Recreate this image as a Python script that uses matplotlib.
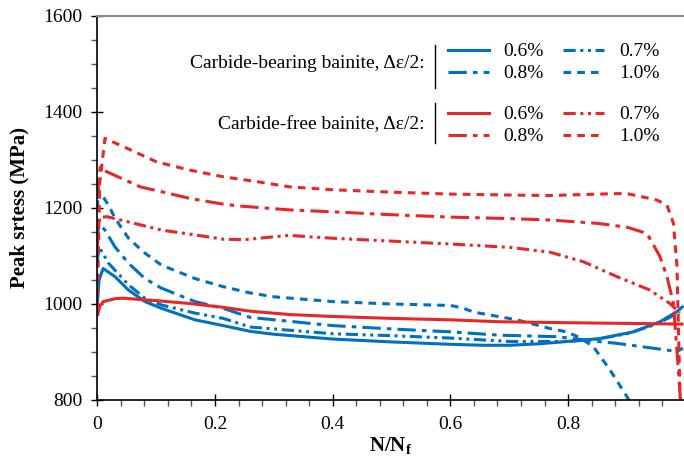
"""Peak stress vs normalised life for carbide-bearing / carbide-free bainite."""
import matplotlib
matplotlib.use("Agg")
import matplotlib.pyplot as plt
from matplotlib.lines import Line2D

# carbide-bearing bainite (blue)
cb06_x = [0, 0.003, 0.01, 0.03, 0.053, 0.081, 0.109, 0.166, 0.214, 0.26, 0.3, 0.4,
          0.5, 0.6, 0.656, 0.7, 0.75, 0.8, 0.854, 0.911, 0.956, 0.985, 0.996]
cb06_y = [1000, 1050, 1074, 1057, 1029, 1005, 991, 967, 955, 943, 937, 927,
          921, 916, 914, 914, 917, 922, 928, 942, 963, 984, 996]
cb07_x = [0, 0.003, 0.019, 0.053, 0.081, 0.109, 0.166, 0.214, 0.26, 0.4, 0.5, 0.6,
          0.7, 0.8, 0.85, 0.9, 0.95, 0.985]
cb07_y = [1090, 1119, 1085, 1040, 1012, 998, 981, 970, 952, 938, 934, 929,
          922, 922, 927, 938, 958, 980]
cb08_x = [0, 0.002, 0.013, 0.03, 0.053, 0.081, 0.109, 0.166, 0.214, 0.26, 0.4, 0.5,
          0.6, 0.684, 0.78, 0.85, 0.883, 0.968, 0.985, 0.995]
cb08_y = [1130, 1168, 1154, 1119, 1085, 1053, 1033, 1005, 991, 972, 955, 948,
          942, 935, 932, 922, 918, 904, 901, 908]
cb10_x = [0, 0.002, 0.019, 0.03, 0.053, 0.081, 0.109, 0.166, 0.214, 0.26, 0.3, 0.4,
          0.5, 0.6, 0.62, 0.64, 0.713, 0.769, 0.797, 0.82, 0.843, 0.871, 0.9, 0.92]
cb10_y = [1200, 1238, 1206, 1179, 1137, 1106, 1081, 1053, 1036, 1023, 1015, 1005,
          1000, 997, 992, 983, 967, 949, 942, 930, 911, 863, 807, 765]

# carbide-free bainite (red)
cf06_x = [0, 0.004, 0.01, 0.03, 0.044, 0.1, 0.157, 0.214, 0.26, 0.327, 0.4, 0.5,
          0.6, 0.684, 0.8, 0.939, 0.996]
cf06_y = [975, 995, 1005, 1011, 1012, 1007, 1001, 993, 985, 978, 974, 970,
          967, 963, 961, 959, 958]
cf07_x = [0, 0.004, 0.016, 0.053, 0.109, 0.166, 0.214, 0.25, 0.3, 0.327, 0.36, 0.4,
          0.5, 0.6, 0.7, 0.769, 0.826, 0.883, 0.939, 0.973, 0.99]
cf07_y = [1120, 1180, 1182, 1171, 1154, 1144, 1135, 1134, 1140, 1143, 1140, 1137,
          1131, 1125, 1118, 1108, 1088, 1057, 1029, 1001, 981]
cf08_x = [0, 0.005, 0.01, 0.073, 0.109, 0.157, 0.214, 0.243, 0.327, 0.4, 0.5, 0.6,
          0.7, 0.769, 0.85, 0.9, 0.934, 0.956, 0.968, 0.979, 0.987, 0.992]
cf08_y = [1225, 1285, 1279, 1244, 1234, 1220, 1208, 1204, 1196, 1192, 1186, 1181,
          1178, 1175, 1168, 1160, 1147, 1099, 1057, 1001, 869, 780]
cf10_x = [0, 0.004, 0.013, 0.044, 0.101, 0.157, 0.214, 0.271, 0.327, 0.4, 0.5, 0.6,
          0.7, 0.769, 0.883, 0.9, 0.95, 0.968, 0.979, 0.985, 0.987, 0.99, 0.992]
cf10_y = [990, 1250, 1345, 1328, 1296, 1279, 1265, 1255, 1244, 1238, 1233, 1229,
          1227, 1226, 1230, 1230, 1217, 1206, 1168, 1078, 974, 820, 780]

labels = ["0.6%", "0.7%", "0.8%", "1.0%"]

BLUE = "#0070C0"
RED = "#E8262A"
STYLES = ["-", (0, (4, 1.5, 1, 1.5, 1, 1.5)), (0, (6, 2, 1.5, 2)), (0, (2.5, 2))]
LW = 2.2

plt.rcParams["font.family"] = ["Liberation Serif", "DejaVu Serif"]
plt.rcParams["mathtext.fontset"] = "custom"
plt.rcParams["mathtext.bf"] = "Liberation Serif:bold"
plt.rcParams["mathtext.rm"] = "Liberation Serif"

fig = plt.figure(figsize=(6.84, 4.63), dpi=100)
ax = fig.add_axes([97.3 / 684, 63 / 463, 1 - 97.3 / 684, 384 / 463])

blue_series = [(cb06_x, cb06_y), (cb07_x, cb07_y), (cb08_x, cb08_y), (cb10_x, cb10_y)]
red_series = [(cf06_x, cf06_y), (cf07_x, cf07_y), (cf08_x, cf08_y), (cf10_x, cf10_y)]

for (x, y), ls in zip(blue_series, STYLES):
    ax.plot(x, y, color=BLUE, lw=LW, linestyle=ls, solid_capstyle="butt")
for (x, y), ls in zip(red_series, STYLES):
    ax.plot(x, y, color=RED, lw=LW, linestyle=ls, solid_capstyle="butt")

ax.set_xlim(0, 586.7 / 588.5)
ax.set_ylim(800, 1600)
ax.set_xticks([0, 0.2, 0.4, 0.6, 0.8])
ax.set_xticklabels(["0", "0.2", "0.4", "0.6", "0.8"])
ax.set_xticks([i * 0.04 for i in range(25)], minor=True)
ax.set_yticks([800, 1000, 1200, 1400, 1600])
ax.set_yticks(range(800, 1601, 50), minor=True)
ax.tick_params(which="major", direction="inout", length=9, width=1, labelsize=14,
               color="black")
ax.tick_params(which="minor", direction="out", length=4, width=1, color="#555555")
ax.tick_params(axis="x", pad=7)
ax.tick_params(axis="y", pad=6)

for s in ("left", "bottom"):
    ax.spines[s].set_color("black")
    ax.spines[s].set_linewidth(1.2)
ax.spines["right"].set_visible(False)
ax.spines["top"].set_color("#8c8c8c")
ax.spines["top"].set_linewidth(1.5)

ax.set_xlabel("N/N$_\\mathbf{f}$", fontsize=15, fontweight="bold", labelpad=2)
ax.set_ylabel("Peak srtess (MPa)", fontsize=15, fontweight="bold", labelpad=10)


def handles(color):
    # order so that ncol=2 fills columns as 0.6/0.8 | 0.7/1.0
    idx = [0, 2, 1, 3]
    return ([Line2D([], [], color=color, lw=LW, linestyle=STYLES[i]) for i in idx],
            [labels[i] for i in idx])


blocks = [(BLUE, 0.93, 0.875, (0.924, 0.813), "Carbide-bearing bainite, \u0394\u03b5/2:"),
          (RED, 0.766, 0.716, (0.773, 0.669), "Carbide-free bainite, \u0394\u03b5/2:")]
for color, top, mid, bar, title in blocks:
    h, l = handles(color)
    leg = ax.legend(h, l, ncol=2, loc="upper left", bbox_to_anchor=(0.598, top),
                    frameon=False, fontsize=14, handlelength=2.1,
                    columnspacing=1.0, handletextpad=0.75, labelspacing=0.22,
                    borderaxespad=0, borderpad=0)
    ax.add_artist(leg)
    ax.text(0.5585, mid, title, transform=ax.transAxes, ha="right",
            va="center", fontsize=14)
    ax.plot([0.5756, 0.5756], list(bar), transform=ax.transAxes,
            color="black", lw=1, clip_on=False)
ax.legend_ = None

fig.savefig("out.png", dpi=100)
